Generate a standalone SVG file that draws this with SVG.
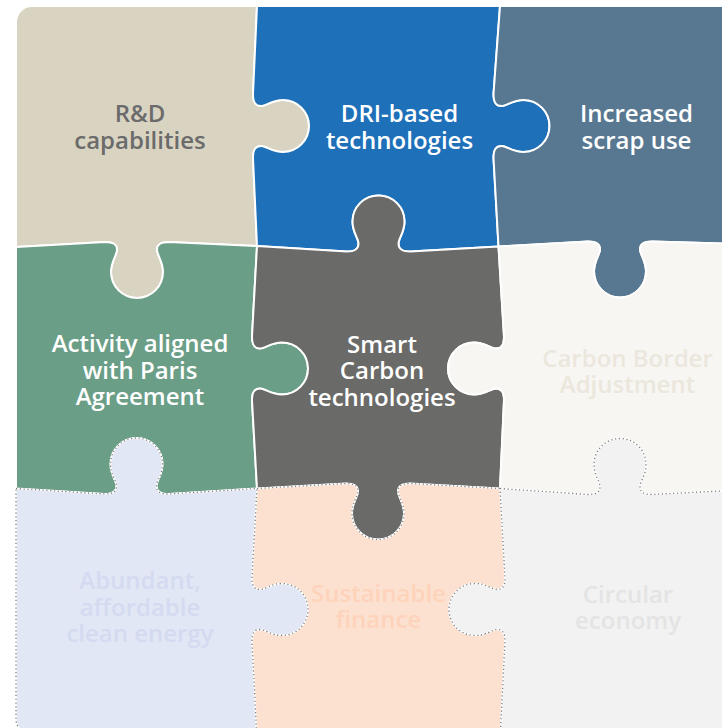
<svg xmlns="http://www.w3.org/2000/svg" xmlns:xlink="http://www.w3.org/1999/xlink" width="722" height="728" viewBox="0 0 722 728">
<style>
.solid{stroke:#ffffff;stroke-width:2;stroke-linejoin:round}
.under{stroke:#ffffff;stroke-width:1.6;stroke-linejoin:round}
.dots{fill:none;stroke:#7d7d7d;stroke-width:1.3;stroke-dasharray:1.2 2.6;stroke-linecap:butt}
text{font-family:"Open Sans","Noto Sans","DejaVu Sans",sans-serif;font-size:24px;font-weight:600;text-anchor:middle}
</style>
<defs>
<path id="p-abundant" d="M 16,488.5 L 104.5,494 C 112.5,494 116.5,492 116.5,486 C 116.5,481 110.5,475 110.5,464 C 110.5,449.6 122.1,438 136.5,438 C 150.9,438 162.5,449.6 162.5,464 C 162.5,475 156.5,481 156.5,486 C 156.5,492 160.5,494 168.5,494 L 257,488.5 L 252,577.5 C 252,585.5 254,589.5 260,589.5 C 265,589.5 271,583.5 282,583.5 C 296.4,583.5 308,595.1 308,609.5 C 308,623.9 296.4,635.5 282,635.5 C 271,635.5 265,629.5 260,629.5 C 254,629.5 252,633.5 252,641.5 L 257,735 L 32,735 A 16 16 0 0 1 16,719 Z"/>
<path id="p-sustainable" d="M 257,488.5 L 346,483.5 C 354,483.5 358,485.5 358,491.5 C 358,496.5 352,502.5 352,513.5 C 352,527.9 363.6,539.5 378,539.5 C 392.4,539.5 404,527.9 404,513.5 C 404,502.5 398,496.5 398,491.5 C 398,485.5 402,483.5 410,483.5 L 500,488.5 L 505,577.5 C 505,585.5 503,589.5 497,589.5 C 492,589.5 486,583.5 475,583.5 C 460.6,583.5 449,595.1 449,609.5 C 449,623.9 460.6,635.5 475,635.5 C 486,635.5 492,629.5 497,629.5 C 503,629.5 505,633.5 505,641.5 L 500,740 L 257,740 L 252,641.5 C 252,633.5 254,629.5 260,629.5 C 265,629.5 271,635.5 282,635.5 C 296.4,635.5 308,623.9 308,609.5 C 308,595.1 296.4,583.5 282,583.5 C 271,583.5 265,589.5 260,589.5 C 254,589.5 252,585.5 252,577.5 Z"/>
<path id="p-circular" d="M 500,488.5 L 588,494.5 C 596,494.5 600,492.5 600,486.5 C 600,481.5 594,475.5 594,464.5 C 594,450.1 605.6,438.5 620,438.5 C 634.4,438.5 646,450.1 646,464.5 C 646,475.5 640,481.5 640,486.5 C 640,492.5 644,494.5 652,494.5 L 740,490 L 740,740 L 500,740 L 505,641.5 C 505,633.5 503,629.5 497,629.5 C 492,629.5 486,635.5 475,635.5 C 460.6,635.5 449,623.9 449,609.5 C 449,595.1 460.6,583.5 475,583.5 C 486,583.5 492,589.5 497,589.5 C 503,589.5 505,585.5 505,577.5 Z"/>
</defs>

<g id="rd">
<path class="solid" fill="#d9d4c2" d="M 32,6 L 257,6 L 253,94 C 253,102 255,106 261,106 C 266,106 272,100 283,100 C 297.4,100 309,111.6 309,126 C 309,140.4 297.4,152 283,152 C 272,152 266,146 261,146 C 255,146 253,150 253,158 L 257,246 L 169,242 C 161,242 157,244 157,250 C 157,255 163,261 163,272 C 163,286.4 151.4,298 137,298 C 122.6,298 111,286.4 111,272 C 111,261 117,255 117,250 C 117,244 113,242 105,242 L 16,247 L 16,22 A 16 16 0 0 1 32,6 Z"/>
<text fill="#6b6b6b" x="140" y="121.5">R&amp;D</text>
<text fill="#6b6b6b" x="140" y="148.5">capabilities</text>
</g>

<g id="dri">
<path class="solid" fill="#1e70b9" d="M 257,6 L 500,6 L 493.5,94 C 493.5,102 495.5,106 501.5,106 C 506.5,106 512.5,100 523.5,100 C 537.9,100 549.5,111.6 549.5,126 C 549.5,140.4 537.9,152 523.5,152 C 512.5,152 506.5,146 501.5,146 C 495.5,146 493.5,150 493.5,158 L 498.5,246.5 L 410.5,251.5 C 402.5,251.5 398.5,249.5 398.5,243.5 C 398.5,238.5 404.5,232.5 404.5,221.5 C 404.5,207.1 392.9,195.5 378.5,195.5 C 364.1,195.5 352.5,207.1 352.5,221.5 C 352.5,232.5 358.5,238.5 358.5,243.5 C 358.5,249.5 354.5,251.5 346.5,251.5 L 257,246 L 253,158 C 253,150 255,146 261,146 C 266,146 272,152 283,152 C 297.4,152 309,140.4 309,126 C 309,111.6 297.4,100 283,100 C 272,100 266,106 261,106 C 255,106 253,102 253,94 Z"/>
<text fill="#ffffff" x="399.5" y="121.5">DRI-based</text>
<text fill="#ffffff" x="399.5" y="148.5">technologies</text>
</g>

<g id="scrap">
<path class="solid" fill="#587892" d="M 500,6 L 740,6 L 740,244 L 652,241.5 C 644,241.5 640,243.5 640,249.5 C 640,254.5 646,260.5 646,271.5 C 646,285.9 634.4,297.5 620,297.5 C 605.6,297.5 594,285.9 594,271.5 C 594,260.5 600,254.5 600,249.5 C 600,243.5 596,241.5 588,241.5 L 498.5,246.5 L 493.5,158 C 493.5,150 495.5,146 501.5,146 C 506.5,146 512.5,152 523.5,152 C 537.9,152 549.5,140.4 549.5,126 C 549.5,111.6 537.9,100 523.5,100 C 512.5,100 506.5,106 501.5,106 C 495.5,106 493.5,102 493.5,94 Z"/>
<text fill="#ffffff" x="636.5" y="121.5">Increased</text>
<text fill="#ffffff" x="636.5" y="148.5">scrap use</text>
</g>

<g id="paris">
<path class="solid" fill="#6a9e87" d="M 16,247 L 105,242 C 113,242 117,244 117,250 C 117,255 111,261 111,272 C 111,286.4 122.6,298 137,298 C 151.4,298 163,286.4 163,272 C 163,261 157,255 157,250 C 157,244 161,242 169,242 L 257,246 L 252,336.5 C 252,344.5 254,348.5 260,348.5 C 265,348.5 271,342.5 282,342.5 C 296.4,342.5 308,354.1 308,368.5 C 308,382.9 296.4,394.5 282,394.5 C 271,394.5 265,388.5 260,388.5 C 254,388.5 252,392.5 252,400.5 L 257,488.5 L 168.5,494 C 160.5,494 156.5,492 156.5,486 C 156.5,481 162.5,475 162.5,464 C 162.5,449.6 150.9,438 136.5,438 C 122.1,438 110.5,449.6 110.5,464 C 110.5,475 116.5,481 116.5,486 C 116.5,492 112.5,494 104.5,494 L 16,488.5 Z"/>
<text fill="#ffffff" x="140" y="351.5">Activity aligned</text>
<text fill="#ffffff" x="140" y="378.5">with Paris</text>
<text fill="#ffffff" x="140" y="405">Agreement</text>
</g>

<g id="smart">
<path class="solid" fill="#6a6a68" d="M 257,246 L 346.5,251.5 C 354.5,251.5 358.5,249.5 358.5,243.5 C 358.5,238.5 352.5,232.5 352.5,221.5 C 352.5,207.1 364.1,195.5 378.5,195.5 C 392.9,195.5 404.5,207.1 404.5,221.5 C 404.5,232.5 398.5,238.5 398.5,243.5 C 398.5,249.5 402.5,251.5 410.5,251.5 L 498.5,246.5 L 504,336.5 C 504,344.5 502,348.5 496,348.5 C 491,348.5 485,342.5 474,342.5 C 459.6,342.5 448,354.1 448,368.5 C 448,382.9 459.6,394.5 474,394.5 C 485,394.5 491,388.5 496,388.5 C 502,388.5 504,392.5 504,400.5 L 500,488.5 L 410,483.5 C 402,483.5 398,485.5 398,491.5 C 398,496.5 404,502.5 404,513.5 C 404,527.9 392.4,539.5 378,539.5 C 363.6,539.5 352,527.9 352,513.5 C 352,502.5 358,496.5 358,491.5 C 358,485.5 354,483.5 346,483.5 L 257,488.5 L 252,400.5 C 252,392.5 254,388.5 260,388.5 C 265,388.5 271,394.5 282,394.5 C 296.4,394.5 308,382.9 308,368.5 C 308,354.1 296.4,342.5 282,342.5 C 271,342.5 265,348.5 260,348.5 C 254,348.5 252,344.5 252,336.5 Z"/>
<text fill="#ffffff" x="382" y="352.5">Smart</text>
<text fill="#ffffff" x="382" y="379">Carbon</text>
<text fill="#ffffff" x="382" y="405.5">technologies</text>
</g>

<g id="cbam">
<path class="solid" fill="#f7f6f3" d="M 498.5,246.5 L 588,241.5 C 596,241.5 600,243.5 600,249.5 C 600,254.5 594,260.5 594,271.5 C 594,285.9 605.6,297.5 620,297.5 C 634.4,297.5 646,285.9 646,271.5 C 646,260.5 640,254.5 640,249.5 C 640,243.5 644,241.5 652,241.5 L 740,244 L 740,490 L 652,494.5 C 644,494.5 640,492.5 640,486.5 C 640,481.5 646,475.5 646,464.5 C 646,450.1 634.4,438.5 620,438.5 C 605.6,438.5 594,450.1 594,464.5 C 594,475.5 600,481.5 600,486.5 C 600,492.5 596,494.5 588,494.5 L 500,488.5 L 504,400.5 C 504,392.5 502,388.5 496,388.5 C 491,388.5 485,394.5 474,394.5 C 459.6,394.5 448,382.9 448,368.5 C 448,354.1 459.6,342.5 474,342.5 C 485,342.5 491,348.5 496,348.5 C 502,348.5 504,344.5 504,336.5 Z"/>
<text fill="#ebe7dc" x="627.5" y="366.5">Carbon Border</text>
<text fill="#ebe7dc" x="627.5" y="393">Adjustment</text>
</g>

<g id="energy">
<use xlink:href="#p-abundant" href="#p-abundant" class="under" fill="#e2e7f5"/>
<use xlink:href="#p-abundant" href="#p-abundant" class="dots"/>
<text fill="#d4dbf1" x="140" y="588.5">Abundant,</text>
<text fill="#d4dbf1" x="140" y="615.5">affordable</text>
<text fill="#d4dbf1" x="140" y="642">clean energy</text>
</g>

<g id="finance">
<use xlink:href="#p-sustainable" href="#p-sustainable" class="under" fill="#fde1d0"/>
<use xlink:href="#p-sustainable" href="#p-sustainable" class="dots"/>
<text fill="#fdd3bb" x="378.5" y="601.5">Sustainable</text>
<text fill="#fdd3bb" x="378.5" y="627.5">finance</text>
</g>

<g id="circular">
<use xlink:href="#p-circular" href="#p-circular" class="under" fill="#f2f2f2"/>
<use xlink:href="#p-circular" href="#p-circular" class="dots"/>
<text fill="#e4e4e4" x="628" y="602.5">Circular</text>
<text fill="#e4e4e4" x="628" y="628.5">economy</text>
</g>

<g id="connectors"/>
</svg>
